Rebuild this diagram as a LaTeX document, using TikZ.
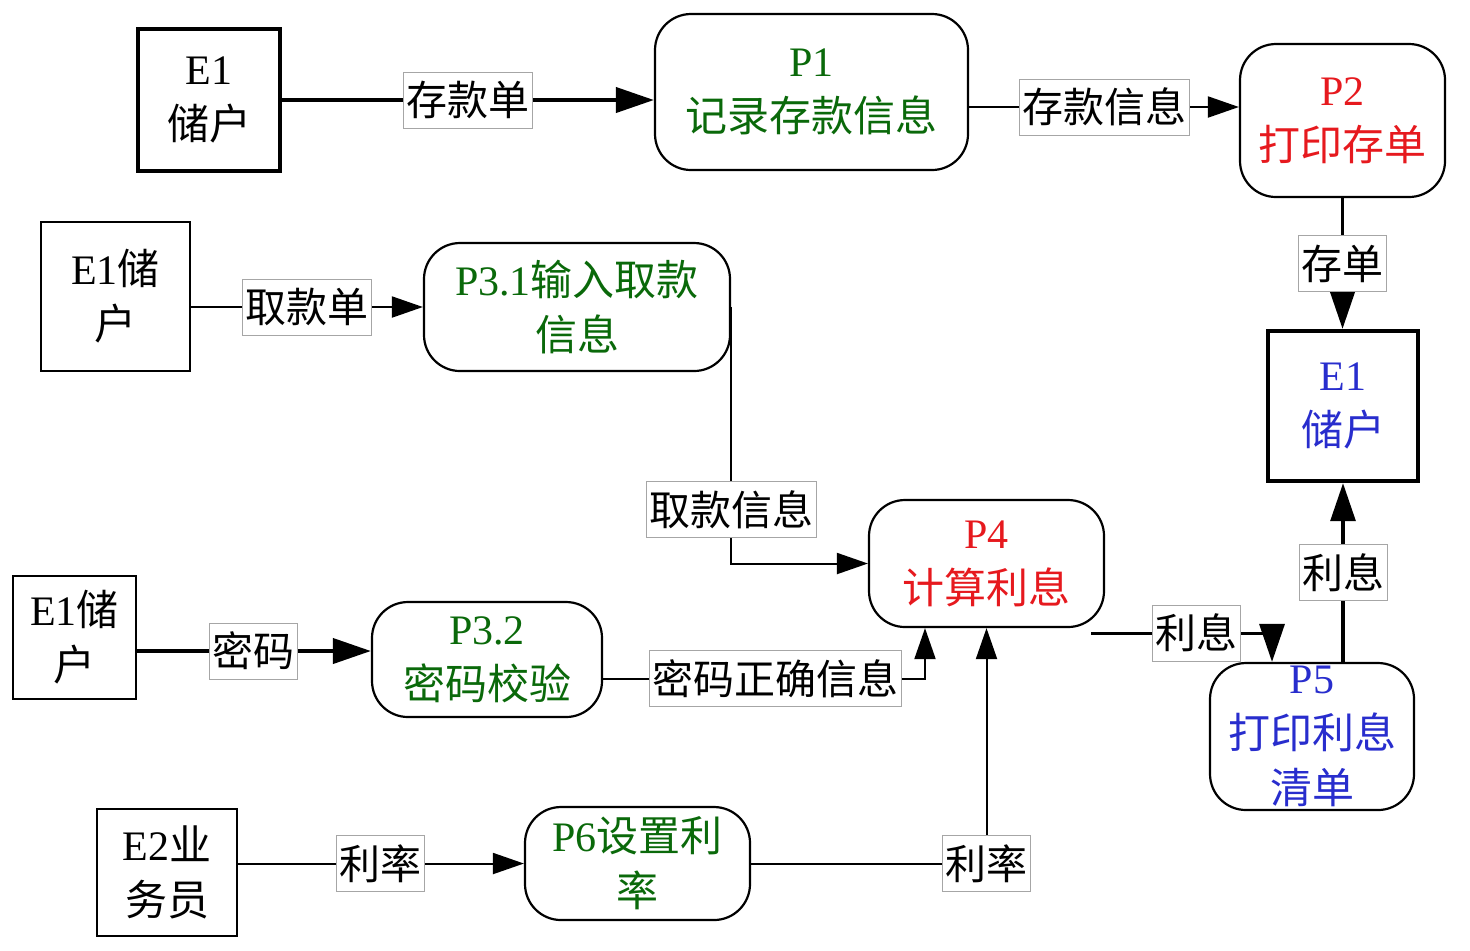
\documentclass[tikz,border=0pt]{standalone}
\usepackage{fontspec}
\setmainfont{Liberation Serif}
\newfontfamily\zhfont{Noto Sans CJK SC}
\usetikzlibrary{arrows.meta}
\definecolor{pgreen}{RGB}{10,105,10}
\definecolor{pred}{RGB}{230,25,30}
\definecolor{pblue}{RGB}{40,45,205}

\begin{document}
\begin{tikzpicture}[x=0.5pt, y=-0.5pt,
    txt/.style = {font={\zhfont\fontsize{21}{27.5}\selectfont}, align=center, inner sep=0pt},
    extbox/.style = {txt, draw, line width=1pt},
    extthick/.style = {txt, draw, line width=2.2pt},
    proc/.style = {txt, draw, line width=1.1pt, rounded corners=18pt},
    lbl/.style = {font={\zhfont\fontsize{20.5}{24}\selectfont}, draw=gray!70, fill=white,
        line width=0.5pt, inner xsep=1.5pt, inner ysep=0pt, minimum height=28pt},
    flow/.style = {line width=1pt, -{Triangle[length=15.5pt,width=10.5pt]}},
    mid flow/.style = {line width=1.6pt, -{Triangle[length=19pt,width=12.5pt]}},
    bold flow/.style = {line width=2pt, -{Triangle[length=19pt,width=12.5pt]}}]
    \useasboundingbox (0,0) rectangle (1470,950);

    % external entities
    \node[extthick, minimum width=71pt, minimum height=71pt] (eTop) at (209,100) {\textrm{E1}\\储户};
    \node[extthick, text=pblue, minimum width=75pt, minimum height=75pt] (eRight) at (1343,406) {\textrm{E1}\\储户};
    \node[extbox, minimum width=74.5pt, minimum height=74.5pt] (eWd) at (115.5,296.5) {\textrm{E1}储\\户};
    \node[extbox, minimum width=61.5pt, minimum height=61.5pt] (ePwd) at (74.5,637.5) {\textrm{E1}储\\户};
    \node[extbox, minimum width=70pt, minimum height=63.5pt] (eClerk) at (167,872.5) {\textrm{E2}业\\务员};

    % processes
    \node[proc, text=pgreen, minimum width=156.5pt, minimum height=78pt] (pOne) at (811.5,92) {\textrm{P1}\\记录存款信息};
    \node[proc, text=pred, minimum width=102.5pt, minimum height=76.5pt] (pTwo) at (1342.5,120.5) {\textrm{P2}\\打印存单};
    \node[proc, text=pgreen, minimum width=153pt, minimum height=64pt] (pInput) at (577,307) {\textrm{P3.1}输入取款\\信息};
    \node[proc, text=pgreen, minimum width=115pt, minimum height=57.5pt] (pCheck) at (487,659.5) {\textrm{P3.2}\\密码校验};
    \node[proc, text=pred, minimum width=117.5pt, minimum height=63.5pt] (pFour) at (986.5,563.5) {\textrm{P4}\\计算利息};
    \node[proc, text=pblue, minimum width=102pt, minimum height=73.5pt] (pFive) at (1312,736.5) {\textrm{P5}\\打印利息\\清单};
    \node[proc, text=pgreen, minimum width=112.5pt, minimum height=56.5pt] (pSix) at (637.5,863.5) {\textrm{P6}设置利\\率};

    % data flows
    \draw[bold flow] (eTop.east) -- (eTop.east -| pOne.west) node[lbl, midway] (lDep) {存款单};
    \draw[flow] ([yshift=-7.5pt]pOne.east) -- ([yshift=-7.5pt]pOne.east -| pTwo.west) node[lbl, midway] (lDepInfo) {存款信息};
    \draw[mid flow] (pTwo.south) -- (pTwo.south |- eRight.north) node[lbl, midway] (lSlip) {存单};
    \draw[flow] (pInput.west -| eWd.east) -- (pInput.west) node[lbl, midway] (lWd) {取款单};
    \draw[flow] (pInput.east) |- (pFour.west) node[lbl, pos=0.395] (lWdInfo) {取款信息};
    \draw[bold flow] ([yshift=-6.75pt]ePwd.east) -- ([yshift=-6.75pt]ePwd.east -| pCheck.west) node[lbl, midway] (lPwd) {密码};
    \draw[flow] ([yshift=-9.5pt]pCheck.east) -| ([xshift=-30.75pt]pFour.south) node[lbl, pos=0.268] (lPwdOk) {密码正确信息};
    \draw[flow] (pSix.west -| eClerk.east) -- (pSix.west) node[lbl, midway] (lRateIn) {利率};
    \draw[flow] (pSix.east) -| (pFour.south) node[lbl, pos=0.5] (lRate) {利率};
    \coordinate (dOut) at ([xshift=-7pt, yshift=-2.5pt]pFour.south east);
    \draw[mid flow] (dOut) -| ([xshift=-20pt]pFive.north) node[lbl, pos=0.29] (lInt) {利息};
    \draw[mid flow] (eRight.south |- pFive.north) -- (eRight.south) node[lbl, midway] (lIntOut) {利息};
\end{tikzpicture}
\end{document}
